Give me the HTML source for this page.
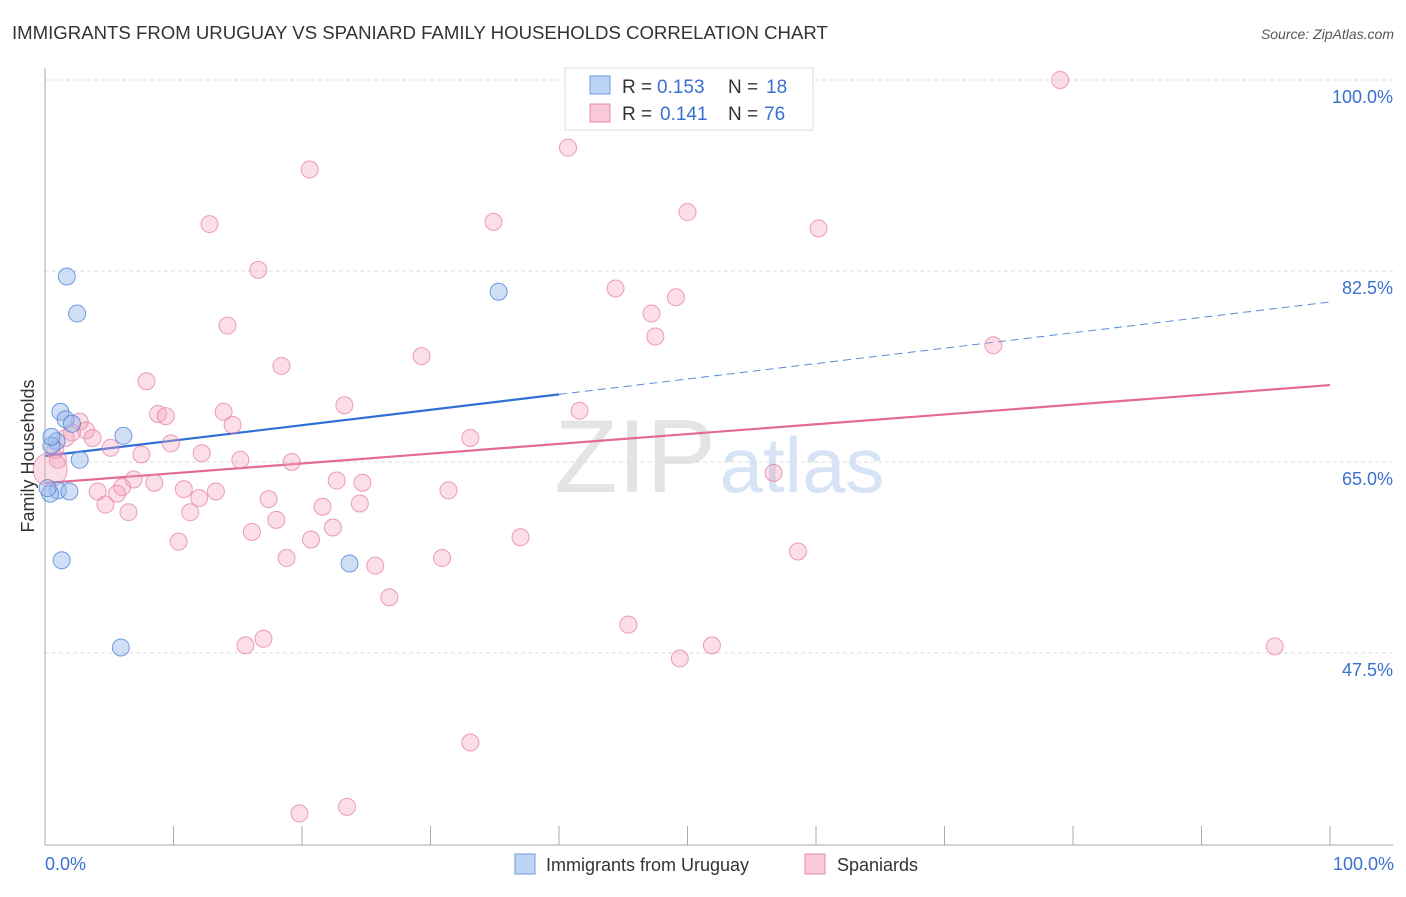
<!DOCTYPE html>
<html><head><meta charset="utf-8"><style>
body{margin:0;background:#fff;font-family:"Liberation Sans",sans-serif;}
svg text{font-family:"Liberation Sans",sans-serif;}
</style></head><body>
<svg id="c" width="1406" height="892" xmlns="http://www.w3.org/2000/svg">
<text x="12" y="39" font-size="18.6" fill="#333">IMMIGRANTS FROM URUGUAY VS SPANIARD FAMILY HOUSEHOLDS CORRELATION CHART</text>
<text x="1394" y="39" font-size="14" fill="#555" text-anchor="end" font-style="italic">Source: ZipAtlas.com</text>
<text x="635" y="492" font-size="104" fill="#e4e4e4" font-family="Liberation Serif" text-anchor="middle">ZIP</text>
<text x="802" y="492" font-size="78" fill="#d6e4f6" text-anchor="middle">atlas</text>
<g id="grid"></g><g id="axes"></g><g id="lines"></g><g id="pts"></g>
<text transform="translate(34,456) rotate(-90)" font-size="18" fill="#333" text-anchor="middle">Family Households</text>
<text x="45" y="870" font-size="18" fill="#3a70d0">0.0%</text>
<text x="1394" y="870" font-size="18" fill="#3a70d0" text-anchor="end">100.0%</text>
<g>
<rect x="565" y="68" width="248" height="62" fill="#fff" stroke="#ddd"/>
<rect x="590" y="76" width="20" height="18" fill="#bcd4f5" stroke="#6b9be0"/>
<rect x="590" y="104" width="20" height="18" fill="#f9c9d7" stroke="#e888a8"/>
<text x="622" y="93" font-size="19" fill="#333">R =</text>
<text x="657" y="93" font-size="19" fill="#3a70d0">0.153</text>
<text x="728" y="93" font-size="19" fill="#333">N =</text>
<text x="766" y="93" font-size="19" fill="#3a70d0">18</text>
<text x="622" y="120" font-size="19" fill="#333">R =</text>
<text x="660" y="120" font-size="19" fill="#3a70d0">0.141</text>
<text x="728" y="120" font-size="19" fill="#333">N =</text>
<text x="764" y="120" font-size="19" fill="#3a70d0">76</text>
</g>
<g>
<rect x="515" y="854" width="20" height="20" fill="#bcd4f5" stroke="#6b9be0"/>
<text x="546" y="871" font-size="18" fill="#333">Immigrants from Uruguay</text>
<rect x="805" y="854" width="20" height="20" fill="#f9c9d7" stroke="#e888a8"/>
<text x="837" y="871" font-size="18" fill="#333">Spaniards</text>
</g>
</svg>
<script>
const yTicks=[100,82.5,65,47.5];
const yTickLabels=["100.0%","82.5%","65.0%","47.5%"];
const blueX=[1.7,2.5,1.2,1.6,2.1,0.9,0.5,2.7,6.1,1.0,1.9,0.4,1.3,5.9,23.7,35.3,0.5,0.2];
const blueY=[82.0,78.6,69.6,68.9,68.5,66.9,66.5,65.2,67.4,62.4,62.3,62.1,56.0,48.0,55.7,80.6,67.3,62.6];
const pinkX=[79.0,40.7,20.6,50.0,12.8,34.9,60.2,16.6,44.4,49.1,47.2,47.5,14.2,29.3,73.8,18.4,7.9,23.3,13.9,8.8,9.4,41.6,14.6,2.7,2.1,3.2,3.7,9.8,33.1,5.1,7.5,12.2,15.2,19.2,0.8,1.0,1.6,6.9,8.5,6.0,4.1,5.6,10.8,13.3,12.0,22.7,24.7,56.7,31.4,17.4,4.7,6.5,11.3,21.6,24.5,18.0,22.4,16.1,10.4,20.7,37.0,18.8,30.9,25.7,58.6,26.8,45.4,17.0,15.6,51.9,49.4,95.7,33.1,19.8,23.5,0.4];
const pinkY=[100.0,93.8,91.8,87.9,86.8,87.0,86.4,82.6,80.9,80.1,78.6,76.5,77.5,74.7,75.7,73.8,72.4,70.2,69.6,69.4,69.2,69.7,68.4,68.7,67.7,67.9,67.2,66.7,67.2,66.3,65.7,65.8,65.2,65.0,66.1,65.2,67.2,63.4,63.1,62.7,62.3,62.1,62.5,62.3,61.7,63.3,63.1,64.0,62.4,61.6,61.1,60.4,60.4,60.9,61.2,59.7,59.0,58.6,57.7,57.9,58.1,56.2,56.2,55.5,56.8,52.6,50.1,48.8,48.2,48.2,47.0,48.1,39.3,32.8,33.4,64.3];
const blueTrend=[65.55,79.66];
const pinkTrend=[63.07,72.05];
const X=v=>45+v*12.85, Y=v=>80+(100-v)*10.914;
const NS="http://www.w3.org/2000/svg";
function mk(t,p,a){const e=document.createElementNS(NS,t);for(const k in a)e.setAttribute(k,a[k]);p.appendChild(e);return e;}
const grid=document.getElementById('grid'),axes=document.getElementById('axes'),lines=document.getElementById('lines'),pts=document.getElementById('pts');
yTicks.forEach((v,i)=>{
 const l=mk('line',grid,{x1:45,x2:1393,y1:Y(v),y2:Y(v),stroke:'#ddd','stroke-dasharray':'4 3'});
 
 
 const t=mk('text',grid,{x:1393,y:Y(v)+23,'font-size':18,fill:'#3a70d0','text-anchor':'end'});
 t.textContent=yTickLabels[i];
 
 
});
const ax=mk('line',axes,{x1:45,x2:45,y1:68,y2:845,stroke:'#aaa'});


const bx=mk('line',axes,{x1:45,x2:1393,y1:845,y2:845,stroke:'#aaa'});


for(let i=0;i<=10;i++){const t=mk('line',axes,{x1:X(i*10),x2:X(i*10),y1:826,y2:845,stroke:'#aaa'});
 
 }
const bEnd=40;
const bm=v=>blueTrend[0]+(blueTrend[1]-blueTrend[0])*v/100;
let l1=mk('line',lines,{x1:X(0),y1:Y(bm(0)),x2:X(bEnd),y2:Y(bm(bEnd)),stroke:'#2f6fd6','stroke-width':2.2});


let l2=mk('line',lines,{x1:X(bEnd),y1:Y(bm(bEnd)),x2:X(100),y2:Y(bm(100)),stroke:'#5a8ad8','stroke-width':1,'stroke-dasharray':'8 5'});


let l3=mk('line',lines,{x1:X(0),y1:Y(pinkTrend[0]),x2:X(100),y2:Y(pinkTrend[1]),stroke:'#e36a95','stroke-width':2.2});


pinkX.forEach((x,i)=>{const c=mk('circle',pts,{cx:X(x),cy:Y(pinkY[i]),r:i==pinkX.length-1?17:8.5,fill:'rgba(244,160,188,0.35)',stroke:'rgba(228,120,160,0.7)','stroke-width':1});
 
 });
blueX.forEach((x,i)=>{const c=mk('circle',pts,{cx:X(x),cy:Y(blueY[i]),r:8.5,fill:'rgba(150,185,235,0.45)',stroke:'rgba(70,125,215,0.75)','stroke-width':1});
 
 });
</script>
</body></html>
